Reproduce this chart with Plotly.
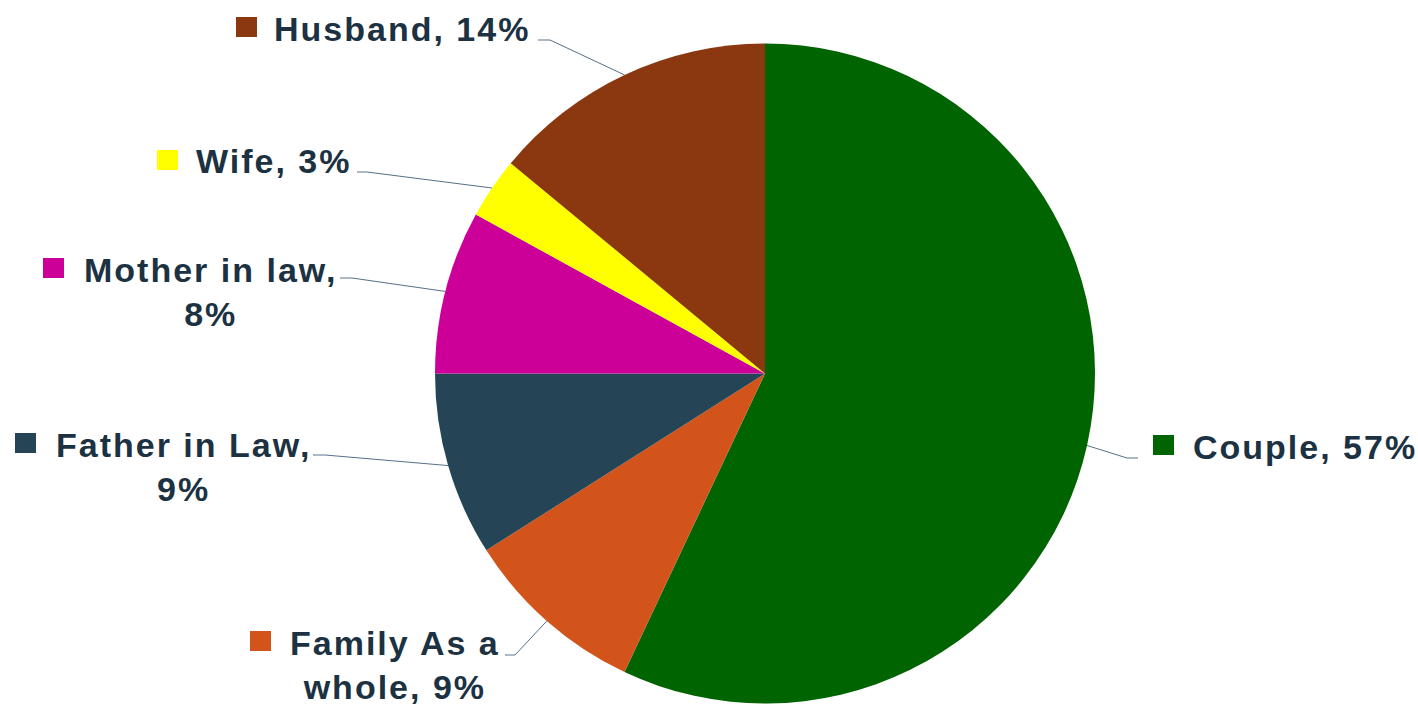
import math
import plotly.graph_objects as go

# ---- data ----
categories = ["Couple", "Family As a whole", "Father in Law", "Mother in law", "Wife", "Husband"]
values = [57, 9, 9, 8, 3, 14]
colors = ["#006400", "#D2541A", "#254556", "#CC0099", "#FFFF00", "#8B3811"]

# ---- layout config (pixels) ----
W, H = 1418, 707
CX, CY, R = 765, 373.5, 330
FONT_SIZE = 34
TEXT_COLOR = "#1C3242"
LEADER_COLOR = "#56708A"
# words on first line (None = single line)
WRAP = [None, 3, 3, 3, None, None]
# square left x, text left x, first line cap-center y
LABEL_POS = [
    (1153, 1192, 445),
    (250, 289, 641),
    (15, 55, 443),
    (43, 83, 268),
    (157, 195, 160),
    (236, 273, 27),
]
# leader elbow x, label-side x, horizontal y
LEADER = [
    (1127, 1138, 458),
    (515, 505, 655),
    (325, 313, 455),
    (352, 340, 278),
    (367, 357, 172),
    (550, 538, 40),
]


def px(x):
    return x / W


def py(y):
    return 1 - y / H


fig = go.Figure(go.Pie(
    labels=categories,
    values=values,
    marker=dict(colors=colors, line=dict(width=0)),
    textinfo="none",
    sort=False,
    direction="clockwise",
    rotation=0,
    showlegend=False,
    domain=dict(x=[px(CX - R), px(CX + R)], y=[py(CY + R), py(CY - R)]),
))

total = sum(values)
cum = 0
annotations = []
shapes = []
for i, (cat, v) in enumerate(zip(categories, values)):
    mid = (cum + v / 2) / total * 2 * math.pi
    cum += v
    ex = CX + R * math.sin(mid)
    ey = CY - R * math.cos(mid)

    words = f"{cat}, {v}%".split(" ")
    if WRAP[i]:
        lines = [" ".join(words[:WRAP[i]]), " ".join(words[WRAP[i]:])]
    else:
        lines = [" ".join(words)]
    text = "<br>".join(f"<span style='letter-spacing:2px'>{ln}</span>" for ln in lines)

    sqx, tx, ty = LABEL_POS[i]
    annotations.append(dict(
        x=px(tx), y=py(ty - 18.5), xref="paper", yref="paper",
        xanchor="left", yanchor="top", align="center",
        text=text, showarrow=False, borderpad=0,
        font=dict(family="Liberation Sans, Arial", size=FONT_SIZE, color=TEXT_COLOR, weight="bold"),
    ))
    shapes.append(dict(
        type="rect", xref="paper", yref="paper",
        x0=px(sqx), x1=px(sqx + 21), y0=py(ty - 10), y1=py(ty + 10),
        fillcolor=colors[i], line=dict(width=0),
    ))
    elx, lx, ly = LEADER[i]
    shapes.append(dict(
        type="path", xref="paper", yref="paper",
        path=f"M {px(ex)},{py(ey)} L {px(elx)},{py(ly)} L {px(lx)},{py(ly)}",
        line=dict(color=LEADER_COLOR, width=1),
    ))

fig.update_layout(
    width=W, height=H,
    margin=dict(l=0, r=0, t=0, b=0),
    paper_bgcolor="white",
    plot_bgcolor="white",
    annotations=annotations,
    shapes=shapes,
)

fig.write_html("out.html")
